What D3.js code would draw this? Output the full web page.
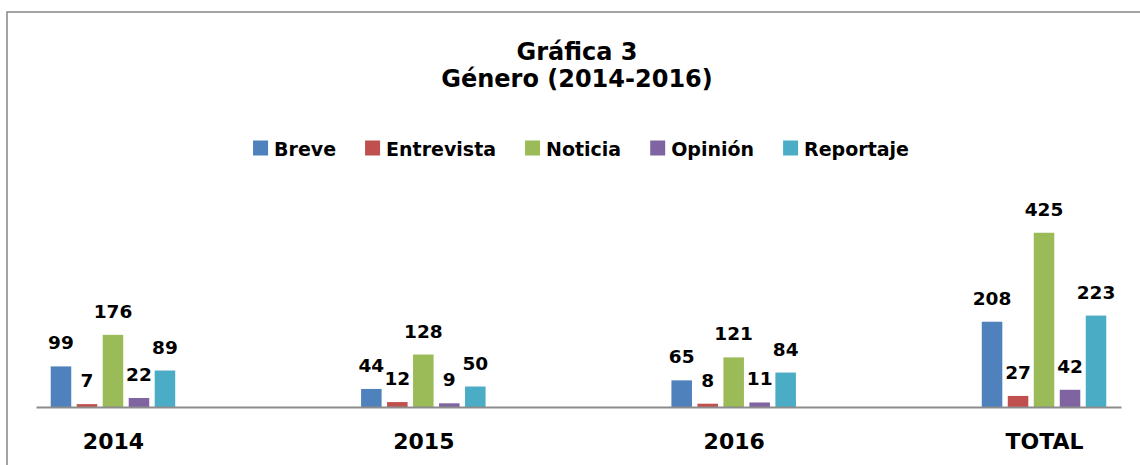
<!DOCTYPE html>
<html>
<head>
<meta charset="utf-8">
<script src="https://cdn.jsdelivr.net/npm/d3@7"></script>
<style>
  body { margin: 0; background: #fff; }
  text { font-family: "DejaVu Sans", sans-serif; font-weight: bold; fill: #000; }
</style>
</head>
<body>
<script>
// data
var years = ["2014", "2015", "2016", "TOTAL"];
var generos = ["Breve", "Entrevista", "Noticia", "Opinión", "Reportaje"];
var breve = [99, 44, 65, 208];
var entrevista = [7, 12, 8, 27];
var noticia = [176, 128, 121, 425];
var opinion = [22, 9, 11, 42];
var reportaje = [89, 50, 84, 223];
var colores = ["#4f81bd", "#c0504d", "#9bbb59", "#8064a2", "#4bacc6"];

var series = [breve, entrevista, noticia, opinion, reportaje];

var width = 1140,
    height = 465;

var svg = d3.select("body")
    .append("svg")
    .attr("width", width)
    .attr("height", height);

// chart frame (only left and top edges are in view)
svg.append("path")
    .attr("d", "M7," + (height + 5) + "V12H" + (width + 5))
    .attr("fill", "none")
    .attr("stroke", "#868686")
    .attr("stroke-width", 1.5);

// title
var title = svg.append("text")
    .attr("text-anchor", "middle")
    .attr("font-size", 24);
title.append("tspan").attr("x", 577).attr("y", 60).text("Gráfica 3");
title.append("tspan").attr("x", 577).attr("y", 86.5).text("Género (2014-2016)");

// legend
var legend = svg.append("g").attr("class", "legend");
var lx = 0;
generos.forEach(function(name, i) {
    var item = legend.append("g").attr("transform", "translate(" + lx + ",0)");
    item.append("rect")
        .attr("x", 0)
        .attr("y", -15)
        .attr("width", 15)
        .attr("height", 15)
        .attr("fill", colores[i]);
    var t = item.append("text")
        .attr("x", 21)
        .attr("y", 0)
        .attr("font-size", 19)
        .text(name);
    lx += 21 + t.node().getComputedTextLength() + 29;
});
lx -= 29;
legend.attr("transform", "translate(" + (581 - lx / 2) + ",155.5)");

// scales
var x = d3.scalePoint()
    .domain(years)
    .range([36, 1121])
    .padding(0.248);

var xInner = d3.scaleBand()
    .domain(generos)
    .range([-62.25, 62.25])
    .paddingInner(0.21)
    .paddingOuter(0);

var y = d3.scaleLinear()
    .domain([0, 450])
    .range([407, 222.5]);

// bars
var groups = svg.selectAll("g.year")
    .data(years)
  .enter().append("g")
    .attr("class", "year")
    .attr("transform", function(d) { return "translate(" + x(d) + ",0)"; });

function rowOf(d, j) {
    return generos.map(function(g, i) { return { genero: g, i: i, value: series[i][j] }; });
}

groups.selectAll("rect")
    .data(rowOf)
  .enter().append("rect")
    .attr("x", function(d) { return xInner(d.genero); })
    .attr("width", xInner.bandwidth())
    .attr("y", function(d) { return y(d.value); })
    .attr("height", function(d) { return y(0) - y(d.value); })
    .attr("fill", function(d) { return colores[d.i]; });

groups.selectAll("text.valor")
    .data(rowOf)
  .enter().append("text")
    .attr("class", "valor")
    .attr("text-anchor", "middle")
    .attr("font-size", 18.5)
    .attr("x", function(d) { return xInner(d.genero) + xInner.bandwidth() / 2; })
    .attr("y", function(d) { return y(d.value) - 17; })
    .text(function(d) { return d.value; });

// x axis
var axis = svg.append("g")
    .attr("transform", "translate(0," + y(0) + ")")
    .call(d3.axisBottom(x).tickSize(0).tickPadding(26));

axis.select(".domain")
    .attr("stroke", "#8c8c8c")
    .attr("stroke-width", 2);

axis.selectAll("text")
    .attr("font-family", "DejaVu Sans")
    .attr("font-weight", "bold")
    .attr("font-size", 22)
    .attr("fill", "#000");
</script>
</body>
</html>
